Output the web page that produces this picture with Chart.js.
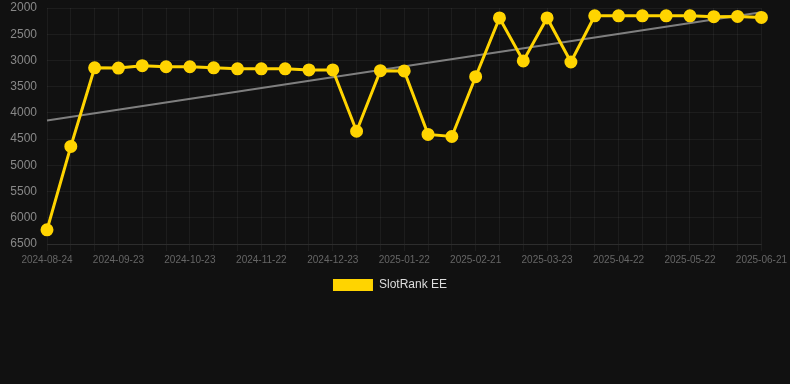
<!DOCTYPE html>
<html>
<head>
<meta charset="utf-8">
<script src="https://cdn.jsdelivr.net/npm/chart.js@4"></script>
<style>
html,body{margin:0;padding:0;background:#111111;}
#wrap{width:790px;height:301px;position:relative;}
</style>
</head>
<body>
<div id="wrap"><canvas id="c"></canvas></div>
<script>
const categories = [
  "2024-08-24","2024-09-03","2024-09-13","2024-09-23","2024-10-03","2024-10-13",
  "2024-10-23","2024-11-02","2024-11-12","2024-11-22","2024-12-02","2024-12-12",
  "2024-12-23","2025-01-02","2025-01-12","2025-01-22","2025-02-01","2025-02-11",
  "2025-02-21","2025-03-03","2025-03-13","2025-03-23","2025-04-02","2025-04-12",
  "2025-04-22","2025-05-02","2025-05-12","2025-05-22","2025-06-01","2025-06-11",
  "2025-06-21"
];
const rankValues = [
  6230, 4640, 3140, 3145, 3100, 3120,
  3120, 3140, 3160, 3160, 3160, 3180,
  3180, 4350, 3195, 3200, 4410, 4450,
  3310, 2190, 3010, 2190, 3030, 2150,
  2150, 2150, 2150, 2150, 2165, 2160,
  2180
];
const trendValues = [4145, null, null, null, null, null, null, null, null, null, null, null, null, null, null, null, null, null, null, null, null, null, null, null, null, null, null, null, null, null, 2080];
const yTicks = [2000, 2500, 3000, 3500, 4000, 4500, 5000, 5500, 6000, 6500];

new Chart(document.getElementById('c'), {
  type: 'line',
  data: {
    labels: categories,
    datasets: [
      {
        label: 'SlotRank EE',
        data: rankValues,
        borderColor: '#ffd400',
        backgroundColor: '#ffd400',
        borderWidth: 3,
        pointRadius: 5,
        pointHoverRadius: 5,
        pointBackgroundColor: '#ffd400',
        pointBorderColor: '#ffd400',
        tension: 0,
        order: 1
      },
      {
        label: 'trend',
        data: trendValues,
        spanGaps: true,
        borderColor: 'rgba(140,140,140,0.9)',
        borderWidth: 2,
        pointRadius: 0,
        fill: false,
        order: 2
      }
    ]
  },
  options: {
    responsive: true,
    maintainAspectRatio: false,
    animation: false,
    layout: { padding: { left: 0, right: 10, top: 0, bottom: 0 } },
    plugins: {
      legend: {
        position: 'bottom',
        labels: {
          color: '#dddddd',
          font: { size: 12 },
          boxWidth: 40,
          boxHeight: 12,
          generateLabels: function(chart) {
            const items = Chart.defaults.plugins.legend.labels.generateLabels(chart);
            return items.filter(it => it.text !== 'trend').map(it => Object.assign(it, { lineWidth: 0 }));
          }
        }
      },
      tooltip: { enabled: false }
    },
    scales: {
      x: {
        offset: false,
        grid: { color: 'rgba(255,255,255,0.05)', drawTicks: true, tickLength: 7 },
        border: { color: 'rgba(255,255,255,0.08)' },
        ticks: {
          color: '#666666',
          font: { size: 10 },
          autoSkip: false,
          maxRotation: 0,
          callback: function(v, i) { return i % 3 === 0 ? categories[i] : ''; }
        }
      },
      y: {
        reverse: true,
        min: 2000,
        max: 6500,
        afterBuildTicks: (axis) => { axis.ticks = yTicks.map(v => ({ value: v })); },
        afterFit: (axis) => { axis.width = 47; },
        grid: { color: 'rgba(255,255,255,0.05)', drawTicks: true, tickLength: 10, tickColor: 'rgba(0,0,0,0)' },
        border: { display: false },
        ticks: {
          color: '#888888',
          font: { size: 12 },
          padding: 0,
          callback: (v) => String(v)
        }
      }
    }
  }
});
</script>
</body>
</html>
